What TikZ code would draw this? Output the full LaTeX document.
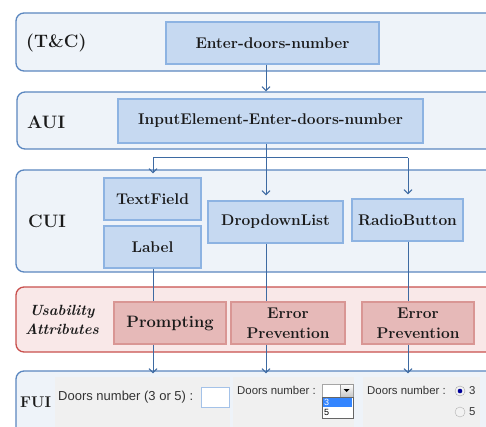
\documentclass[tikz,border=0pt]{standalone}
\usepackage{fontspec}
\newfontfamily\uisans{Liberation Sans}
\usetikzlibrary{arrows.meta}
\definecolor{bandfill}{HTML}{EEF3F9}
\definecolor{bandline}{HTML}{5B87C0}
\definecolor{boxfill}{HTML}{C6D9F1}
\definecolor{boxline}{HTML}{8DB3E2}
\definecolor{redfill}{HTML}{F9E8E8}
\definecolor{redline}{HTML}{C9504E}
\definecolor{rboxfill}{HTML}{E6B9B8}
\definecolor{rboxline}{HTML}{D99694}
\definecolor{arrcol}{HTML}{3D6AA2}
\definecolor{panelgray}{HTML}{F0F0F0}
\definecolor{txt}{HTML}{1A1A1A}
\tikzset{
  band/.style={draw=bandline, line width=1.3pt, fill=bandfill, rounded corners=8pt,
    minimum width=479pt, inner sep=0pt},
  redband/.style={band, draw=redline, fill=redfill},
  bluebox/.style={draw=boxline, line width=1.3pt, fill=boxfill, inner sep=0pt,
    minimum height=42pt, font=\bfseries\fontsize{15.5}{17}\selectfont, text=txt},
  redbox/.style={draw=rboxline, line width=1.3pt, fill=rboxfill, inner sep=0pt,
    minimum height=42pt, minimum width=112pt, align=center,
    font=\bfseries\fontsize{15.5}{20}\selectfont, text=txt},
  bandlabel/.style={anchor=west, inner sep=0pt, font=\bfseries\fontsize{18}{20}\selectfont, text=txt},
  conn/.style={draw=arrcol, line width=1pt},
  arr/.style={conn, -{Straight Barb[length=4pt,width=8pt,line width=1pt]}},
  uitext/.style={inner sep=0pt, anchor=west, font=\uisans\fontsize{13}{14}\selectfont, text=black!80},
  uimid/.style={uitext, font=\uisans\fontsize{11.4}{13}\selectfont},
  uismall/.style={inner sep=0pt, font=\uisans\fontsize{9}{10}\selectfont},
}
\begin{document}
\begin{tikzpicture}[x=1pt,y=-1pt]
\useasboundingbox (0,0) rectangle (486,427);
\clip (0,0) rectangle (486,427);
\fill[white] (0,0) rectangle (486,427);

% column coordinates
\coordinate (col1) at (153,0);
\coordinate (col2) at (266,0);
\coordinate (col3) at (408,0);
\coordinate (split) at (266,158);

% bands
\node[band, minimum height=58pt] (tcband) at (255.5,42) {};
\node[band, minimum height=57pt] (auiband) at (256.5,120.5) {};
\node[band, minimum height=102pt] (cuiband) at (255.5,221) {};
\node[redband, minimum height=65pt] (uaband) at (255.5,319.5) {};
\node[band, minimum height=72pt] (fuiband) at (255.5,407) {};

% band labels
\node[bandlabel] (tclab) at (26,43) {(T\&C)};
\node[bandlabel] (auilab) at (27,122) {AUI};
\node[bandlabel] (cuilab) at (28,221) {CUI};
\node[inner sep=0pt, align=center, font=\bfseries\itshape\fontsize{14.8}{18.5}\selectfont, text=txt] (ualab) at (62,320) {Usability\\Attributes};
\node[bandlabel, font=\bfseries\fontsize{15.5}{17}\selectfont] (fuilab) at (20,402) {FUI};

% boxes
\node[bluebox, minimum width=213pt] (ent) at (272.5,43) {Enter-doors-number};
\node[bluebox, minimum width=305pt, minimum height=44pt] (inp) at (270.5,121) {InputElement-Enter-doors-number};
\node[bluebox, minimum width=97pt] (tf) at (152.5,199) {TextField};
\node[bluebox, minimum width=97pt] (lb) at (152.5,247) {Label};
\node[bluebox, minimum width=135pt] (dd) at (275.5,222) {DropdownList};
\node[bluebox, minimum width=111pt] (rb) at (407.5,220) {RadioButton};

\node[redbox, font=\bfseries\fontsize{16.5}{20}\selectfont] (pr) at (170,323) {Prompting};
\node[redbox, minimum width=114pt] (ep1) at (288,323) {Error\\Prevention};
\node[redbox] (ep2) at (418,323) {Error\\Prevention};

% connectors
\draw[arr] (ent.south -| col2) -- (auiband.north -| col2);
\draw[conn] (inp.south -| col2) -- (split);
\draw[conn] (split -| col1) -- (split -| col3);
\draw[arr, shorten >=4pt] (split -| col1) -- (tf.north -| col1);
\draw[arr, shorten >=5pt] (split) -- (dd.north -| col2);
\draw[arr, shorten >=4pt] (split -| col3) -- (rb.north -| col3);

\draw[conn] (lb.south -| col1) -- (pr.north -| col1);
\draw[conn] (dd.south -| col2) -- (ep1.north -| col2);
\draw[conn] (rb.south -| col3) -- (ep2.north -| col3);
\draw[arr] (pr.south -| col1) -- ([yshift=-3pt]fuiband.north -| col1);
\draw[arr] (ep1.south -| col2) -- ([yshift=-3pt]fuiband.north -| col2);
\draw[arr] (ep2.south -| col3) -- ([yshift=-3pt]fuiband.north -| col3);

% FUI panels
\fill[panelgray] (55,377) rectangle (230,430);
\fill[panelgray] (233,377) rectangle (354,430);
\fill[panelgray] (363,377) rectangle (480,430);

% panel 1
\node[uitext] (t1) at (58,397) {Doors number (3 or 5) :};
\node[draw=boxline!80, fill=white, line width=0.8pt, minimum width=28pt, minimum height=20pt, inner sep=0pt] (tbox) at (215,397) {};

% panel 2
\node[uimid] (t2) at (237,390) {Doors number :};
\node[draw=gray!70, fill=white, line width=0.6pt, minimum width=18pt, minimum height=13pt, inner sep=0pt] (ddbox) at (331,390.5) {};
\node[draw=gray!80, top color=white, bottom color=gray!45, line width=0.6pt, minimum width=13pt, minimum height=13pt, inner sep=0pt] (ddbtn) at (346.5,390.5) {};
\fill[black] (343.5,389) -- (349.5,389) -- (346.5,392) -- cycle;
\node[draw=gray!80!black, fill=white, line width=0.6pt, minimum width=31pt, minimum height=21pt, inner sep=0pt] (ddlist) at (337.5,407.5) {};
\fill[blue!60!cyan!80] (323,398) rectangle (352,407);
\node[uismall, text=white, anchor=west] (opt3) at (324,402.5) {3};
\node[uismall, text=black, anchor=west] (opt5) at (324,412.5) {5};

% panel 3
\node[uimid] (t3) at (367,390) {Doors number :};
\node[circle, draw=gray!70, fill=gray!10, minimum size=10pt, inner sep=0pt] (r3) at (460,391) {};
\fill[blue!60!black] (r3) circle (2.3pt);
\node[circle, draw=gray!60, fill=gray!10, minimum size=10pt, inner sep=0pt] (r5) at (460,412) {};
\node[uimid] (l3) at (469,391) {3};
\node[uimid] (l5) at (469,412) {5};
\end{tikzpicture}
\end{document}
